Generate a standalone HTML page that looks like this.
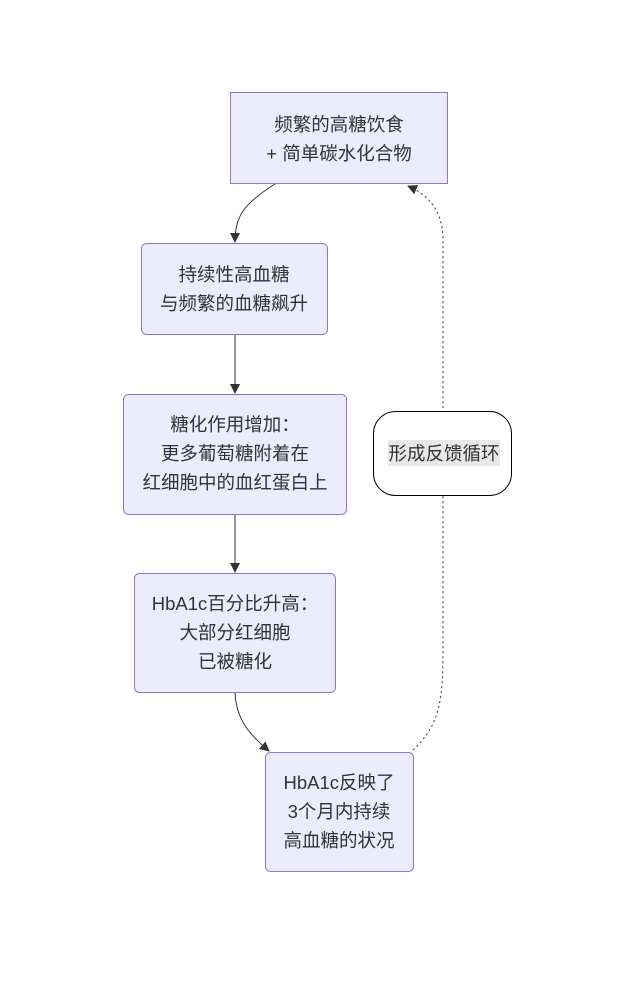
<!DOCTYPE html>
<html><head><meta charset="utf-8"><style>
body{margin:0;background:#fff;}
text{font-family:"Liberation Sans","Noto Sans CJK SC",sans-serif;font-size:18.5px;fill:#333;text-anchor:middle;}
</style></head><body>
<svg width="643" height="976" viewBox="0 0 643 976" xmlns="http://www.w3.org/2000/svg">
<defs>
<marker id="a" viewBox="0 0 10 10" refX="9" refY="5" markerWidth="10" markerHeight="10" orient="auto"><path d="M0,0L10,5L0,10z" fill="#333"/></marker>
</defs>
<g fill="none" stroke="#333" stroke-width="1">
<path d="M275,184 C245,203 235,215 235,242" marker-end="url(#a)"/>
<path d="M235,334 L235,393" marker-end="url(#a)"/>
<path d="M235,514 L235,572" marker-end="url(#a)"/>
<path d="M235,692 C236,720 250,735 269,751" marker-end="url(#a)"/>
<path d="M413,750 C440,725 443,700 443,650 L443,240 C443,210 428,195 408,186" stroke-dasharray="2,3" marker-end="url(#a)"/>
</g>
<g fill="#ececff" stroke="#9370db" stroke-width="1">
<rect x="230.5" y="92.5" width="217" height="91"/>
<rect x="141.5" y="243.5" width="186" height="91" rx="5"/>
<rect x="123.5" y="394.5" width="223" height="120" rx="5"/>
<rect x="134.5" y="573.5" width="201" height="119" rx="5"/>
<rect x="265.5" y="752.5" width="148" height="119" rx="5"/>
</g>
<rect x="373.5" y="411.5" width="138" height="84" rx="22" fill="#fff" stroke="#000"/>
<rect x="388" y="440" width="112" height="26" fill="#e8e8e8"/>
<text x="444" y="460">形成反馈循环</text>
<text x="339" y="131">频繁的高糖饮食</text>
<text x="339" y="160">+ 简单碳水化合物</text>
<text x="234" y="281">持续性高血糖</text>
<text x="234" y="310">与频繁的血糖飙升</text>
<text x="235" y="431">糖化作用增加：</text>
<text x="235" y="460">更多葡萄糖附着在</text>
<text x="235" y="489">红细胞中的血红蛋白上</text>
<text x="235" y="610">HbA1c百分比升高：</text>
<text x="235" y="639">大部分红细胞</text>
<text x="235" y="668">已被糖化</text>
<text x="339" y="789">HbA1c反映了</text>
<text x="339" y="818">3个月内持续</text>
<text x="339" y="847">高血糖的状况</text>
</svg>
</body></html>
